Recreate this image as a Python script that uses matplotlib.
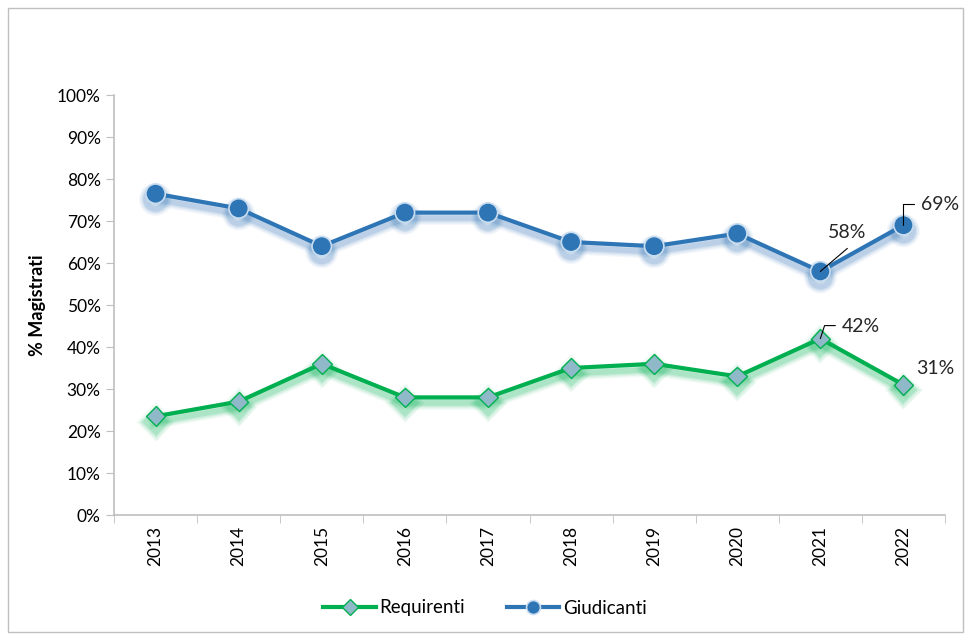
import numpy as np
import matplotlib
matplotlib.use('agg')
import matplotlib.pyplot as plt
import matplotlib.patheffects as pe
from matplotlib.lines import Line2D
from matplotlib.patches import Rectangle
from matplotlib.ticker import MultipleLocator, FuncFormatter

plt.rcParams['font.family'] = ['Lato', 'DejaVu Sans']

anni = ['2013', '2014', '2015', '2016', '2017', '2018', '2019', '2020', '2021', '2022']
giudicanti = [76.5, 73, 64, 72, 72, 65, 64, 67, 58, 69]
requirenti = [23.5, 27, 36, 28, 28, 35, 36, 33, 42, 31]

verde = '#00B050'
blu = '#2E75B6'


def glow(colore):
    # ombra sfumata sotto la linea, fatta con piu' strati trasparenti
    effetti = []
    for lw, a in [(10, 0.05), (8, 0.07), (6, 0.10), (4, 0.14)]:
        effetti.append(pe.SimpleLineShadow(offset=(0, -4), shadow_color=colore,
                                           alpha=a, linewidth=lw))
    effetti.append(pe.Normal())
    return effetti


fig = plt.figure(figsize=(9.7, 6.35), dpi=100)
fig.patches.append(Rectangle((8 / 970, 3 / 635), 955 / 970, 624 / 635,
                             transform=fig.transFigure, fill=False,
                             edgecolor='#BFBFBF', linewidth=1))

ax = fig.add_axes([114 / 970, 120 / 635, 831 / 970, 420 / 635])
x = np.arange(len(anni))

stile_req = dict(color=verde, linewidth=3, marker='D', markersize=10,
                 markerfacecolor='#8FB8C9', markeredgecolor=verde, markeredgewidth=1)
stile_giu = dict(color=blu, linewidth=3, marker='o', markersize=14,
                 markerfacecolor=blu, markeredgecolor='#C9DDF0', markeredgewidth=1.2)

ax.plot(x, requirenti, path_effects=glow('#00B050'), **stile_req)
ax.plot(x, giudicanti, path_effects=glow('#2E75B6'), **stile_giu)

ax.set_xlim(-0.5, len(anni) - 0.5)
ax.set_ylim(0, 100)
ax.yaxis.set_major_locator(MultipleLocator(10))
ax.yaxis.set_major_formatter(FuncFormatter(lambda v, p: '%d%%' % v))
ax.set_xticks(x)
ax.set_xticklabels(anni, rotation=90)
ax.set_xticks(np.arange(-0.5, len(anni), 1), minor=True)
ax.tick_params(axis='x', which='major', length=0, labelsize=12.5, pad=8)
ax.tick_params(axis='x', which='minor', length=6, color='#BFBFBF')
ax.tick_params(axis='y', length=6, color='#BFBFBF', labelsize=12.5)

for s in ['top', 'right']:
    ax.spines[s].set_visible(False)
for s in ['left', 'bottom']:
    ax.spines[s].set_color('#BFBFBF')
    ax.spines[s].set_linewidth(1.2)

ax.set_ylabel('% Magistrati', fontsize=13, fontweight='bold', labelpad=8)

# etichette dati sugli ultimi due anni, con linee guida
lab = dict(fontsize=14, color='#262626', textcoords='offset pixels',
           va='center', ha='center')
guida = dict(textcoords='offset pixels')


def linea(stile='arc3'):
    return dict(arrowstyle='-', color='black', lw=0.8, shrinkA=0, shrinkB=0,
                connectionstyle=stile)


ax.annotate('', (x[8], giudicanti[8]), xytext=(27, 23), arrowprops=linea(), **guida)
ax.annotate('%d%%' % giudicanti[8], (x[8], giudicanti[8]), xytext=(27, 39), **lab)

ax.annotate('', (x[9], giudicanti[9]), xytext=(11, 21),
            arrowprops=linea('angle,angleA=0,angleB=90,rad=0'), **guida)
ax.annotate('%d%%' % giudicanti[9], (x[9], giudicanti[9]), xytext=(37, 21), **lab)

ax.annotate('', (x[8], requirenti[8]), xytext=(15, 13),
            arrowprops=linea('angle,angleA=0,angleB=72,rad=0'), **guida)
ax.annotate('%d%%' % requirenti[8], (x[8], requirenti[8]), xytext=(40, 12), **lab)

ax.annotate('%d%%' % requirenti[9], (x[9], requirenti[9]), xytext=(32, 16), **lab)

maniglie = [Line2D([], [], **stile_req), Line2D([], [], **stile_giu)]
maniglie[0].set_markersize(8)
maniglie[1].set_markersize(10)
fig.legend(maniglie, ['Requirenti', 'Giudicanti'], loc='center',
           bbox_to_anchor=(0.5, 27 / 635), ncol=2, frameon=False,
           fontsize=13.5, handlelength=2.8, columnspacing=2.2, handletextpad=0.2)

fig.savefig('out.png', dpi=100)
